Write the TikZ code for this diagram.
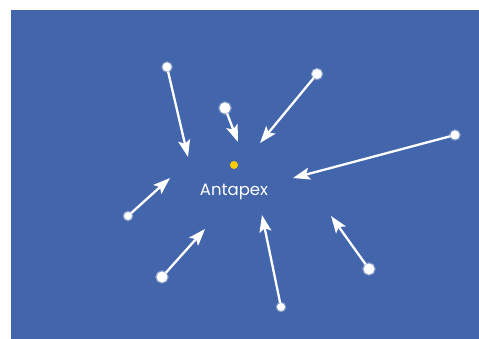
\documentclass[tikz,border=0pt]{standalone}
\usepackage{fontspec}
\setmainfont{Poppins}
\usepackage{xcolor}
\usetikzlibrary{arrows.meta, positioning}
\definecolor{skyblue}{RGB}{67,101,172}
\definecolor{apexgold}{RGB}{255,204,0}

\begin{document}
\begin{tikzpicture}[x=1pt, y=-1pt,
    meteor/.style={circle, fill=white, inner sep=0pt, minimum size=#1,
      preaction={draw=white, line width=2.4pt, opacity=0.35}},
    meteor/.default=9pt,
    trail/.style={white, line width=2.3pt, -{Stealth[length=17pt, width=12pt, inset=3.5pt]}}]
    \useasboundingbox (0,0) rectangle (479,339);
    \fill[skyblue] (11,10) rectangle (479,339);
    \node[circle, fill=apexgold, inner sep=0pt, minimum size=8pt] (apex) at (234,165) {};
    \node[text=white, font=\fontsize{16.5}{20}\selectfont] (name) at (234,192) {Antapex};
    % meteors and where they head
    \node[meteor] (m1) at (167,67) {};
    \node[meteor=11pt] (m2) at (225,108) {};
    \node[meteor=10pt] (m3) at (317,74) {};
    \node[meteor] (m4) at (455,135) {};
    \node[meteor=8pt] (m5) at (128,216) {};
    \node[meteor=11pt] (m6) at (162,277) {};
    \node[meteor=8pt] (m7) at (281,307) {};
    \node[meteor=11pt] (m8) at (369,269) {};
    \coordinate (t1) at (188,157);
    \coordinate (t2) at (238,142);
    \coordinate (t3) at (260,143);
    \coordinate (t4) at (293,178);
    \coordinate (t5) at (170,178);
    \coordinate (t6) at (205,229);
    \coordinate (t7) at (262,215);
    \coordinate (t8) at (331,216);
    \draw[trail] (m1) -- (t1);
    \draw[trail] (m2) -- (t2);
    \draw[trail] (m3) -- (t3);
    \draw[trail] (m4) -- (t4);
    \draw[trail] (m5) -- (t5);
    \draw[trail] (m6) -- (t6);
    \draw[trail] (m7) -- (t7);
    \draw[trail] (m8) -- (t8);
\end{tikzpicture}
\end{document}
